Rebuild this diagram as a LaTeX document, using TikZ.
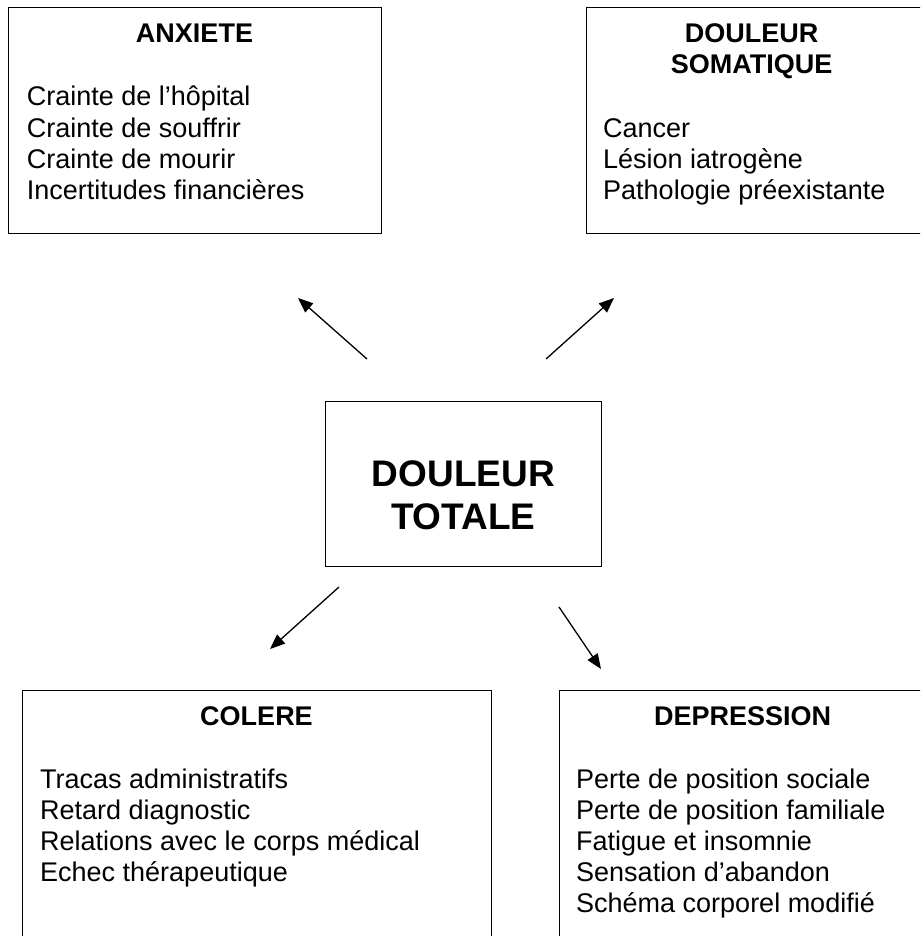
\documentclass[tikz,border=0pt]{standalone}
\usepackage{fontspec}
\setmainfont{Liberation Sans}
\usetikzlibrary{arrows.meta}
\begin{document}
\begin{tikzpicture}[x=1pt,y=-1pt,
  boxline/.style={draw=black, line width=1.3pt, inner sep=0pt, anchor=north west},
  head/.style={font=\fontsize{27}{31}\selectfont\bfseries, anchor=base, inner sep=0pt, align=center},
  bigtitle/.style={font=\fontsize{37}{42.6}\selectfont\bfseries, anchor=base, inner sep=0pt, align=center},
  body/.style={font=\fontsize{27}{31}\selectfont, anchor=base west, inner sep=0pt, align=left},
  arr/.style={-{Triangle[length=15pt,width=12pt]}, line width=1.3pt}]
\useasboundingbox (0,0) rectangle (920,936);
\clip (0,0) rectangle (920,936);
\fill[white] (0,0) rectangle (920,936);
% boxes
\node[boxline, minimum width=373pt, minimum height=226pt] (anx) at (8,7) {};
\node[boxline, minimum width=360pt, minimum height=226pt] (som) at (586,7) {};
\node[boxline, minimum width=276pt, minimum height=165pt] (tot) at (325,401) {};
\node[boxline, minimum width=469pt, minimum height=280pt] (col) at (22,690) {};
\node[boxline, minimum width=380pt, minimum height=280pt] (dep) at (559,690) {};
% texts (base anchor = baseline of the last line)
\node[head] (anxh) at (194.5,42.7) {ANXIETE};
\node[body] (anxb) at (26.7,199) {Crainte de l’hôpital\\Crainte de souffrir\\Crainte de mourir\\Incertitudes financières};
\node[head] (somh) at (751.7,74) {DOULEUR\\SOMATIQUE};
\node[body] (somb) at (603,199) {Cancer\\Lésion iatrogène\\Pathologie préexistante};
\node[bigtitle] (toth) at (463.3,529.3) {DOULEUR\\TOTALE};
\node[head] (colh) at (256.5,725) {COLERE};
\node[body] (colb) at (40,881) {Tracas administratifs\\Retard diagnostic\\Relations avec le corps médical\\Echec thérapeutique};
\node[head] (deph) at (742.7,725) {DEPRESSION};
\node[body] (depb) at (576,912) {Perte de position sociale\\Perte de position familiale\\Fatigue et insomnie\\Sensation d’abandon\\Schéma corporel modifié};
% arrows
\coordinate (a1s) at (367,359); \coordinate (a1e) at (298,298);
\coordinate (a2s) at (546,359); \coordinate (a2e) at (614,298);
\coordinate (a3s) at (339,587); \coordinate (a3e) at (270,649);
\coordinate (a4s) at (559,607); \coordinate (a4e) at (601,669);
\draw[arr] (a1s) -- (a1e);
\draw[arr] (a2s) -- (a2e);
\draw[arr] (a3s) -- (a3e);
\draw[arr] (a4s) -- (a4e);
\end{tikzpicture}
\end{document}
